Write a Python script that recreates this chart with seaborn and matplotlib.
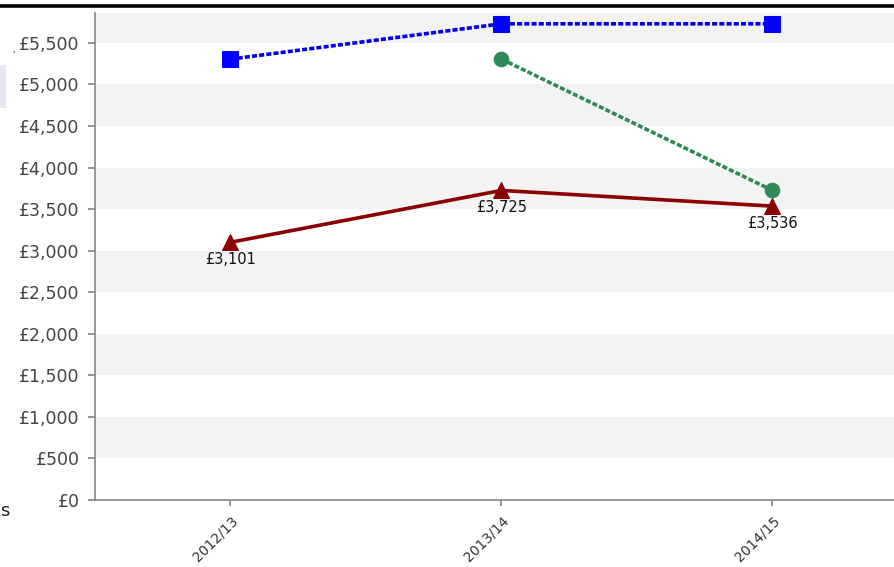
import matplotlib
matplotlib.use("Agg")
import matplotlib.pyplot as plt
import matplotlib.ticker as mticker
from matplotlib.lines import Line2D
from matplotlib.patches import Rectangle
import numpy as np
import pandas as pd
import seaborn as sns

# Werte
years = ["2012/13", "2013/14", "2014/15"]
blue_vals = [5305, 5730, 5730]
green_vals = [np.nan, 5305, 3725]
red_vals = [3101, 3725, 3536]
red_labels = ["£3,101", "£3,725", "£3,536"]
yticks = list(range(0, 6000, 500))

sns.set_theme(style="white")
plt.rcParams["font.family"] = ["DejaVu Sans"]

fig = plt.figure(figsize=(8.95, 5.67), dpi=100)
ax = fig.add_axes([95 / 895, 67 / 567, 813 / 895, 487 / 567])

# graue Baender
for lo in range(500, 6000, 1000):
    ax.axhspan(lo, lo + 500, color="#f3f3f3", zorder=0, lw=0)

xs = np.arange(len(years))
series = [
    (blue_vals, "#0000e6", "s", (1.4, 0.6), "#0000ff", 11.5),
    (green_vals, "#2e8b57", "o", (1.4, 0.6), "#2e8b57", 10.5),
    (red_vals, "#8b0000", "^", None, "#8b0000", 11.5),
]
for vals, col, mk, dash, mcol, ms in series:
    d = pd.DataFrame({"x": xs, "y": vals}).dropna()
    sns.lineplot(data=d, x="x", y="y", ax=ax, color=col, lw=2.6,
                 marker=mk, markersize=ms, markerfacecolor=mcol,
                 markeredgecolor=mcol, zorder=3)
    if dash is not None:
        ax.lines[-1].set_dashes(dash)

for x, v, lab in zip(xs, red_vals, red_labels):
    ax.annotate(lab, (x, v), xytext=(0, -7), textcoords="offset points",
                ha="center", va="top", fontsize=10.5, color="#111111")

ax.set_xlim(-0.5, 2.5)
ax.set_ylim(0, 5860)
ax.set_yticks(yticks)
ax.yaxis.set_major_formatter(mticker.FuncFormatter(lambda v, p: f"£{int(v):,}"))
ax.set_xticks(xs)
ax.set_xticklabels([])
# Jahreslabels schraeg, etwas rechts vom Tick wie in der Vorlage
for x, yr in zip(xs, years):
    ax.annotate(yr, (x, 0), xycoords=("data", "axes fraction"),
                xytext=(3.6, -13.5), textcoords="offset points",
                rotation=45, ha="right", va="center", rotation_mode="anchor",
                fontsize=10, color="#333333", annotation_clip=False)
ax.tick_params(axis="y", left=True, length=5, color="#888888",
               labelsize=12.5, labelcolor="#444444", pad=6)
ax.tick_params(axis="x", bottom=True, length=4, color="#888888")
ax.set_xlabel("")
ax.set_ylabel("")
for s in ["top", "right"]:
    ax.spines[s].set_visible(False)
for s in ["left", "bottom"]:
    ax.spines[s].set_color("#888888")
    ax.spines[s].set_linewidth(1.2)

# Reste vom Bildrand
fig.add_artist(Line2D([0, 1], [1 - 5.5 / 567] * 2, color="black", lw=2.6,
                      transform=fig.transFigure))
fig.add_artist(Rectangle((0, 1 - 108 / 567), 6 / 895, 43 / 567,
                         color="#e6e6f2", transform=fig.transFigure, lw=0))
fig.text(0.5 / 895, 1 - 511 / 567, "s", fontsize=13, color="#222222", va="center")
fig.text(12 / 895, 1 - 55 / 567, "'", fontsize=6, color="#222222", va="center")

fig.savefig("out.png", dpi=100)
